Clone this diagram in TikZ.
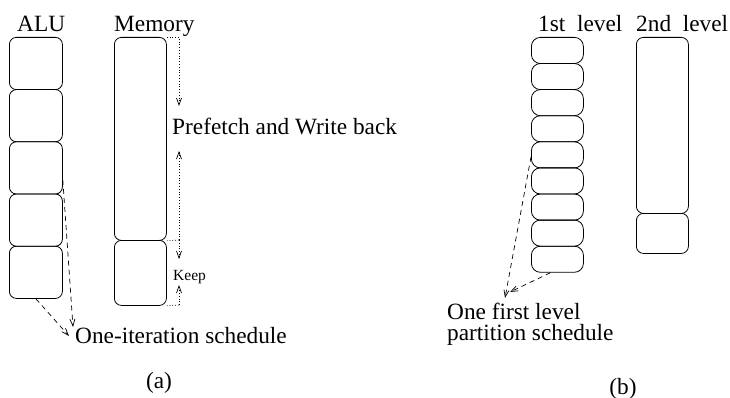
\documentclass[tikz,border=0pt]{standalone}
\usepackage{fontspec}
\setmainfont{Liberation Serif}
\usetikzlibrary{arrows.meta}
\tikzset{
  cell/.style={draw, line width=0.8pt, rounded corners=7pt, inner sep=0pt,
    anchor=north west, minimum width=53pt},
  thin cell/.style={cell, rounded corners=9pt, minimum width=52pt, minimum height=26.1pt},
  lbl/.style={inner sep=0pt, anchor=base west, font=\fontsize{23.3}{20}\selectfont},
  small lbl/.style={inner sep=0pt, anchor=base west, font=\fontsize{15.5}{17}\selectfont},
  vtip/.style={-{Straight Barb[length=7pt,width=5pt,line width=0.7pt]}},
  dotline/.style={dotted, line width=0.8pt, vtip},
  dashline/.style={dashed, dash pattern=on 5pt off 4pt, line width=0.7pt, vtip},
}
\begin{document}
\begin{tikzpicture}[x=1pt,y=-1pt]
\useasboundingbox (0,0) rectangle (730,398);

% (a) ALU column: five equal slots
\node[cell, minimum height=52.2pt] (alu1) at (9,37) {};
\node[cell, minimum height=52.2pt] (alu2) at (9,89.2) {};
\node[cell, minimum height=52.2pt] (alu3) at (9,141.4) {};
\node[cell, minimum height=52.2pt] (alu4) at (9,193.6) {};
\node[cell, minimum height=52.2pt] (alu5) at (9,245.8) {};

% (a) memory column
\node[cell, minimum width=52pt, minimum height=203pt] (mem1) at (114,37) {};
\node[cell, minimum width=52pt, minimum height=65pt] (mem2) at (114,240) {};

\node[lbl] (alutxt) at (17,32) {ALU};
\node[lbl] (memtxt) at (114,31.5) {Memory};

% prefetch / write back span
\coordinate (pfTop) at (179,37);
\coordinate (pfTipA) at (179,106);
\coordinate (pfTipB) at (179,151);
\coordinate (pfMid) at (179,240);
\draw[dotline] (mem1.north east) -- (pfTop) -- (pfTipA);
\draw[dotline] (pfMid) -- (pfTipB);
\draw[dotted, line width=0.8pt] (mem1.south east) -- (pfMid);
\node[lbl] (pftxt) at (172,135) {Prefetch and Write back};

% keep span
\coordinate (kpBot) at (179,305);
\coordinate (kpTipA) at (179,259);
\coordinate (kpTipB) at (179,285);
\draw[dotline] (pfMid) -- (kpTipA);
\draw[dotline] (kpBot) -- (kpTipB);
\draw[dotted, line width=0.8pt] (mem2.south east) -- (kpBot);
\node[small lbl] (kptxt) at (173,280) {Keep};

% one-iteration schedule
\node[lbl] (ittxt) at (75,343) {One-iteration schedule};
\coordinate (itTipA) at (73,327);
\coordinate (itTipB) at (69,336);
\draw[dashline] ([yshift=-12pt]alu3.east) -- (itTipA);
\draw[dashline] (alu5.south) -- (itTipB);

\node[lbl, anchor=base] (capa) at (159,388) {(a)};

% (b) first level partitions
\foreach \i in {1,...,9} {
  \node[thin cell] (lvl\i) at (531,{37+(\i-1)*26.1}) {};
}
% (b) second level partitions
\node[cell, minimum width=52pt, minimum height=176pt] (sec1) at (636,37) {};
\node[cell, minimum width=52pt, minimum height=40pt] (sec2) at (636,213) {};

\node[lbl] (l1txt) at (538,32) {1st\ \ level};
\node[lbl] (l2txt) at (636,32) {2nd\ \ level};

% one first level partition schedule
\node[lbl] (pstxtA) at (447,319) {One first level};
\node[lbl] (pstxtB) at (447,340) {partition schedule};
\coordinate (psTipA) at (505,298);
\coordinate (psTipB) at (510,292);
\draw[dashline] ([yshift=-2pt]lvl5.west) -- (psTipA);
\draw[dashline] ([xshift=-7pt]lvl9.south) -- (psTipB);

\node[lbl, anchor=base] (capb) at (623,394) {(b)};
\end{tikzpicture}
\end{document}
